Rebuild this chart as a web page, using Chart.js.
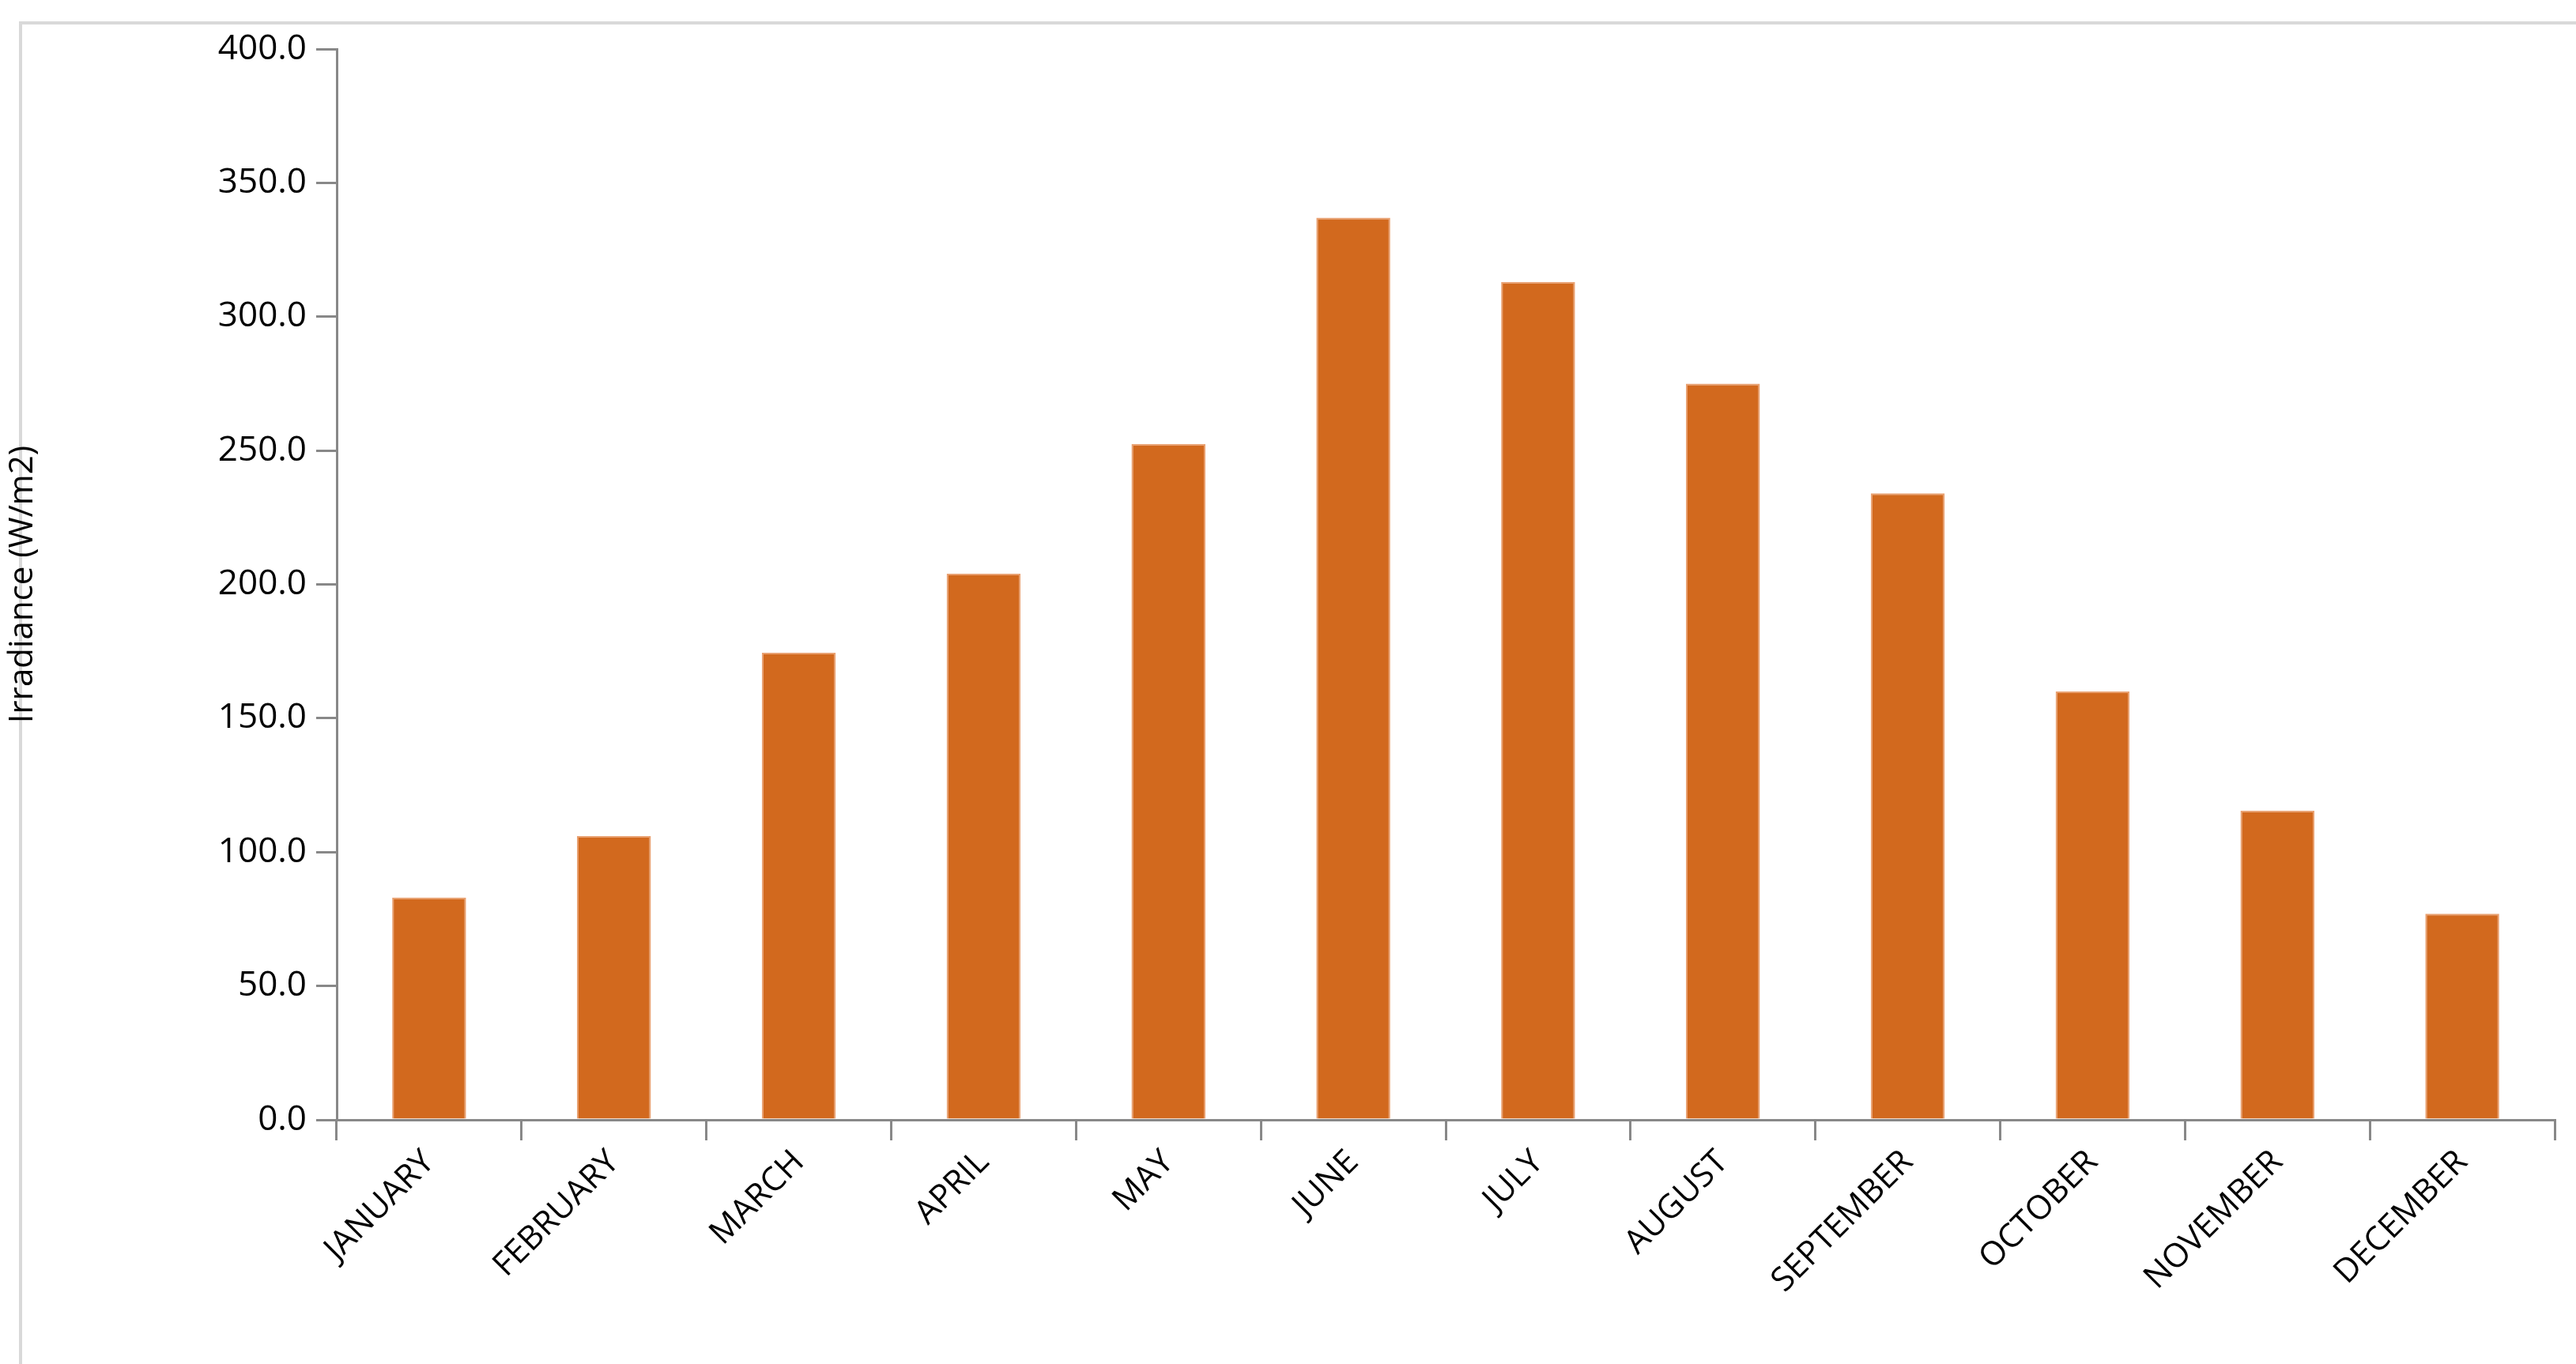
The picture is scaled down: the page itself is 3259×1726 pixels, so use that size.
<!DOCTYPE html>
<html>
<head>
<meta charset="utf-8">
<script src="https://cdn.jsdelivr.net/npm/chart.js@4"></script>
<style>
  html, body { margin: 0; padding: 0; background: #fff; }
  #wrap { width: 3259px; height: 1726px; }
</style>
</head>
<body>
<div id="wrap"><canvas id="irradiance"></canvas></div>
<script>
var months = ["JANUARY", "FEBRUARY", "MARCH", "APRIL", "MAY", "JUNE", "JULY",
    "AUGUST", "SEPTEMBER", "OCTOBER", "NOVEMBER", "DECEMBER"];
var irradiance = [83, 106, 174.5, 204, 252.5, 337, 313, 275, 234, 160, 115.5, 77];
var yTicks = [0, 50, 100, 150, 200, 250, 300, 350, 400];

var frame = {
    id: "frame",
    beforeDraw: function (chart) {
        var c = chart.ctx;
        c.save();
        c.strokeStyle = "#d9d9d9";
        c.lineWidth = 4;
        c.strokeRect(26, 29, 3300, 1800);
        c.restore();
    }
};

var ctx = document.getElementById("irradiance").getContext("2d");
new Chart(ctx, {
    type: "bar",
    data: {
        labels: months,
        datasets: [{
            data: irradiance,
            backgroundColor: "#d2691e",
            borderColor: "#e9a070",
            borderWidth: 2,
            barPercentage: 0.4,
            categoryPercentage: 1.0
        }]
    },
    options: {
        responsive: true,
        maintainAspectRatio: false,
        animation: false,
        layout: { padding: { top: 62, left: 0, right: 27, bottom: 0 } },
        plugins: { legend: { display: false }, tooltip: { enabled: false } },
        scales: {
            x: {
                offset: true,
                grid: { offset: true, drawOnChartArea: false, color: "#888", tickLength: 26, lineWidth: 3 },
                border: { color: "#888", width: 3 },
                ticks: {
                    color: "#000", maxRotation: 45, minRotation: 45, autoSkip: false,
                    font: { family: "Open Sans", size: 42 }
                },
                afterFit: function (s) { s.height = 309; }
            },
            y: {
                min: 0, max: 400,
                afterBuildTicks: function (s) { s.ticks = yTicks.map(function (v) { return { value: v }; }); },
                grid: { drawOnChartArea: false, color: "#888", tickLength: 26, lineWidth: 3 },
                border: { color: "#888", width: 3 },
                ticks: {
                    color: "#000", padding: 12,
                    font: { family: "Open Sans", size: 44 },
                    callback: function (v) { return v.toFixed(1); }
                },
                title: {
                    display: true, text: "Irradiance (W/m2)", color: "#000",
                    font: { family: "Open Sans", size: 42 }, padding: { bottom: 60 }
                },
                afterFit: function (s) { s.width = 426; }
            }
        }
    },
    plugins: [frame]
});
</script>
</body>
</html>
